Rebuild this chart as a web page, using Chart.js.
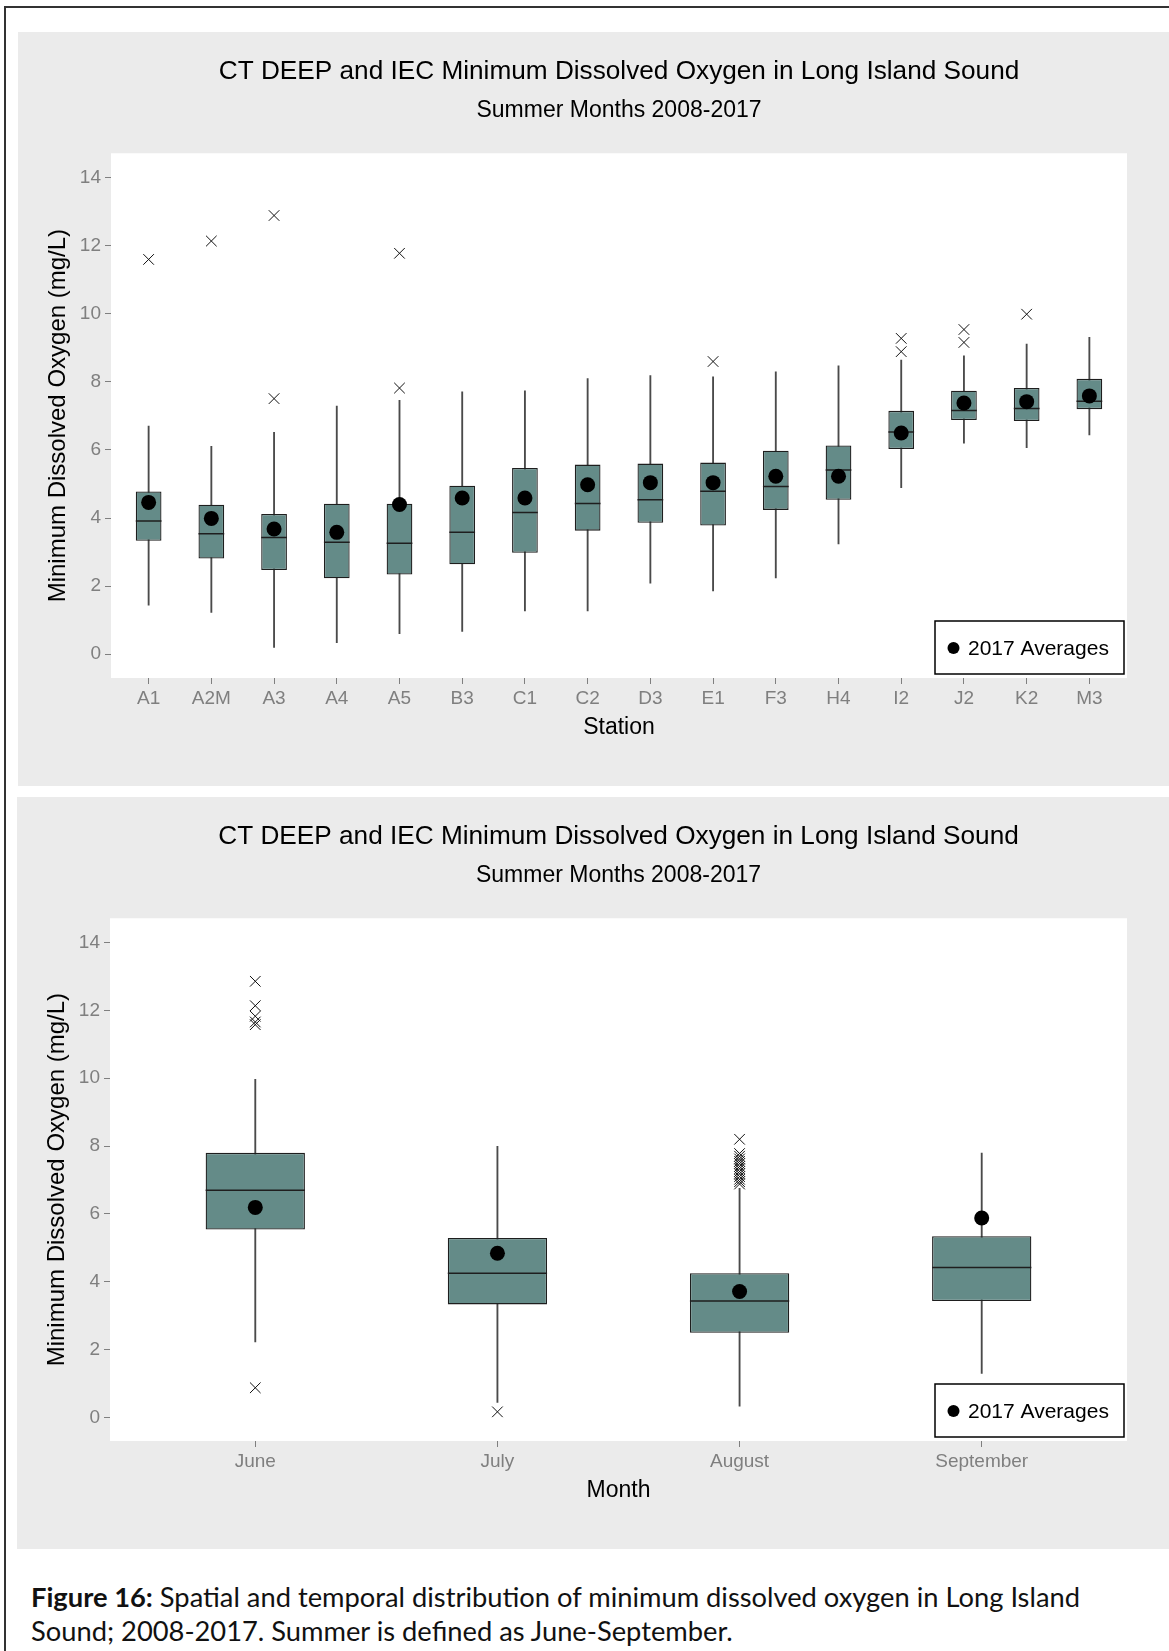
<!DOCTYPE html>
<html>
<head>
<meta charset="utf-8">
<script src="https://cdn.jsdelivr.net/npm/chart.js@4.4.1/dist/chart.umd.min.js"></script>
<style>
	body { margin: 0; background: #fff; width: 1169px; height: 1651px; overflow: hidden; position: relative; }
	#frame { position: absolute; left: 4px; top: 6px; width: 1200px; height: 1700px; border: 2px solid #333; }
	.panel { position: absolute; background: #ebebeb; }
	#panel1 { left: 18px; top: 32px; width: 1151px; height: 754px; }
	#panel2 { left: 17px; top: 797px; width: 1152px; height: 752px; }
	#caption { position: absolute; left: 31px; top: 1580px; font-family: Lato, "Noto Sans", sans-serif;
		font-size: 27.3px; line-height: 34px; color: #111; white-space: nowrap; }
</style>
</head>
<body>
<div id="frame"></div>
<div class="panel" id="panel1"><canvas id="stationChart" width="1151" height="754"></canvas></div>
<div class="panel" id="panel2"><canvas id="monthChart" width="1152" height="752"></canvas></div>
<div id="caption"><b>Figure 16:</b> Spatial and temporal distribution of minimum dissolved oxygen in Long Island<br>Sound; 2008-2017. Summer is defined as June-September.</div>
<script>
// values (mg/L)
const stations = ['A1','A2M','A3','A4','A5','B3','C1','C2','D3','E1','F3','H4','I2','J2','K2','M3'];
const stationLow = [1.44,1.23,0.20,0.34,0.60,0.67,1.27,1.27,2.09,1.86,2.24,3.24,4.89,6.20,6.07,6.44];
const stationQ1 = [3.33,2.81,2.47,2.23,2.34,2.64,2.98,3.63,3.86,3.78,4.24,4.54,6.03,6.88,6.85,7.20];
const stationMedian = [3.91,3.54,3.43,3.29,3.26,3.58,4.16,4.43,4.54,4.79,4.93,5.41,6.53,7.16,7.22,7.43];
const stationQ3 = [4.78,4.39,4.12,4.42,4.42,4.95,5.47,5.57,5.60,5.63,5.98,6.13,7.15,7.74,7.82,8.09];
const stationHigh = [6.70,6.11,6.52,7.29,7.46,7.71,7.74,8.10,8.19,8.15,8.30,8.47,8.64,8.77,9.11,9.31];
const stationAvg2017 = [4.46,3.99,3.68,3.58,4.40,4.59,4.59,4.98,5.04,5.04,5.23,5.23,6.50,7.38,7.42,7.59];
const stationOutliers = [[11.60],[12.14],[12.89,7.51],[],[11.78,7.82],[],[],[],[],[8.60],[],[],
	[9.28,8.89],[9.54,9.16],[9.99],[]];

const months = ['June','July','August','September'];
const monthLow = [2.22,0.44,0.33,1.29];
const monthQ1 = [5.54,3.33,2.49,3.43];
const monthMedian = [6.70,4.25,3.43,4.42];
const monthQ3 = [7.80,5.29,4.25,5.34];
const monthHigh = [9.97,7.99,6.75,7.79];
const monthAvg2017 = [6.19,4.84,3.71,5.88];
const monthOutliers = [[12.86,12.14,11.83,11.66,11.58,0.87],[0.16],
	[8.20,7.78,7.70,7.62,7.55,7.48,7.40,7.33,7.25,7.18,7.10,7.02,6.95,6.88],[]];

const yTicks = [0,2,4,6,8,10,12,14];

const TITLE = 'CT DEEP and IEC Minimum Dissolved Oxygen in Long Island Sound';
const SUBTITLE = 'Summer Months 2008-2017';
const Y_TITLE = 'Minimum Dissolved Oxygen (mg/L)';

const BOX_FILL = '#648b88';
const BOX_LINE = '#1e1e1e';
const WHISKER = '#4a4a4a';
const TICK_GREY = '#7f7f7f';
const BOX_WIDTH = 0.41; // in category units

Chart.defaults.font.family = '"Liberation Sans", Arial, sans-serif';
Chart.defaults.color = '#000';

// white panel behind the plot area, grey comes from the div
const plotBackground = {
	id: 'plotBackground',
	beforeDraw(chart) {
		const {ctx, chartArea: a} = chart;
		ctx.save();
		ctx.fillStyle = '#fff';
		ctx.fillRect(a.left, a.top, a.right - a.left, a.bottom - a.top);
		ctx.restore();
	}
};

// boxed key in the lower right corner of the plot, like the original
const averagesKey = {
	id: 'averagesKey',
	afterDraw(chart) {
		const ds = chart.data.datasets.find((d) => d.inKey);
		if (!ds) { return; }
		const {ctx, chartArea: a} = chart;
		const w = 189, h = 53;
		const left = a.right - 3 - w, top = a.bottom - 4 - h;
		ctx.save();
		ctx.fillStyle = '#fff';
		ctx.fillRect(left, top, w, h);
		ctx.strokeStyle = '#000';
		ctx.lineWidth = 1.5;
		ctx.strokeRect(left, top, w, h);
		ctx.beginPath();
		ctx.arc(left + 18.5, top + h / 2 + 0.5, 6, 0, Math.PI * 2);
		ctx.fillStyle = '#000';
		ctx.fill();
		ctx.font = '21px "Liberation Sans", Arial, sans-serif';
		ctx.textBaseline = 'middle';
		ctx.fillText(ds.label, left + 33, top + h / 2 + 1.5);
		ctx.restore();
	}
};

// half of the box width in pixels, so the median line spans the box
function medianHalfWidth(context) {
	const x = context.chart.scales.x;
	return Math.abs(x.getPixelForValue(1) - x.getPixelForValue(0)) * BOX_WIDTH / 2;
}

function makeBoxChart(canvasId, labels, low, q1, median, q3, high, avg, outliers, xTitle) {
	const outlierPoints = [];
	outliers.forEach((list, i) => {
		list.forEach((v) => outlierPoints.push({ x: i, y: v }));
	});
	return new Chart(document.getElementById(canvasId), {
		type: 'bar',
		data: {
			datasets: [
				{
					label: 'whiskers',
					data: labels.map((_, i) => ({ x: i, y: [low[i], high[i]] })),
					backgroundColor: WHISKER,
					borderWidth: 0,
					barThickness: 1.2,
					order: 4
				},
				{
					label: 'boxes',
					data: labels.map((_, i) => ({ x: i, y: [q1[i], q3[i]] })),
					backgroundColor: BOX_FILL,
					borderColor: BOX_LINE,
					borderWidth: 1.3,
					borderSkipped: false,
					categoryPercentage: 1,
					barPercentage: BOX_WIDTH,
					order: 3
				},
				{
					type: 'scatter',
					label: 'medians',
					data: labels.map((_, i) => ({ x: i, y: median[i] })),
					pointStyle: 'line',
					pointRadius: medianHalfWidth,
					pointHoverRadius: medianHalfWidth,
					pointBorderColor: BOX_LINE,
					pointBorderWidth: 1.5,
					order: 2
				},
				{
					type: 'scatter',
					label: 'outliers',
					data: outlierPoints,
					pointStyle: 'crossRot',
					pointRadius: 7.5,
					pointBorderColor: '#111',
					pointBorderWidth: 1,
					order: 1
				},
				{
					type: 'scatter',
					label: '2017 Averages',
					inKey: true,
					data: labels.map((_, i) => ({ x: i, y: avg[i] })),
					pointStyle: 'circle',
					pointRadius: 7.5,
					pointBackgroundColor: '#000',
					pointBorderWidth: 0,
					order: 0
				}
			]
		},
		options: {
			responsive: false,
			animation: false,
			events: [],
			layout: { padding: { left: 0, right: 42, top: 0, bottom: 0 } },
			plugins: {
				legend: { display: false },
				tooltip: { enabled: false },
				title: {
					display: true, text: TITLE, fullSize: false, color: '#000',
					font: { size: 26.2, weight: 'normal' },
					padding: { top: 24, bottom: 8 }
				},
				subtitle: {
					display: true, text: SUBTITLE, fullSize: false, color: '#000',
					font: { size: 23 },
					padding: { top: 1.7, bottom: 28.5 }
				}
			},
			scales: {
				x: {
					type: 'linear',
					min: -0.6,
					max: labels.length - 0.4,
					offset: false,
					stacked: true,
					afterBuildTicks: (axis) => { axis.ticks = labels.map((_, i) => ({ value: i })); },
					ticks: {
						callback: (v) => labels[v],
						color: TICK_GREY, font: { size: 19 }, padding: 3,
						autoSkip: false, maxRotation: 0
					},
					grid: { drawOnChartArea: false, offset: false, tickLength: 6, color: TICK_GREY },
					border: { display: false },
					title: { display: true, text: xTitle, color: '#000', font: { size: 23 }, padding: { bottom: 45 } },
					afterFit: (scale) => { scale.height = 108; }
				},
				y: {
					min: -0.7,
					max: 14.72,
					afterBuildTicks: (axis) => { axis.ticks = yTicks.map((v) => ({ value: v })); },
					ticks: { color: TICK_GREY, font: { size: 19 }, padding: 4 },
					grid: { drawOnChartArea: false, tickLength: 6, color: TICK_GREY },
					border: { display: false },
					title: { display: true, text: Y_TITLE, color: '#000', font: { size: 24 }, padding: { top: 25.5 } },
					afterFit: (scale) => { scale.width = 93; }
				}
			}
		},
		plugins: [plotBackground, averagesKey]
	});
}

makeBoxChart('stationChart', stations, stationLow, stationQ1, stationMedian, stationQ3, stationHigh,
	stationAvg2017, stationOutliers, 'Station');
makeBoxChart('monthChart', months, monthLow, monthQ1, monthMedian, monthQ3, monthHigh,
	monthAvg2017, monthOutliers, 'Month');
</script>
</body>
</html>
